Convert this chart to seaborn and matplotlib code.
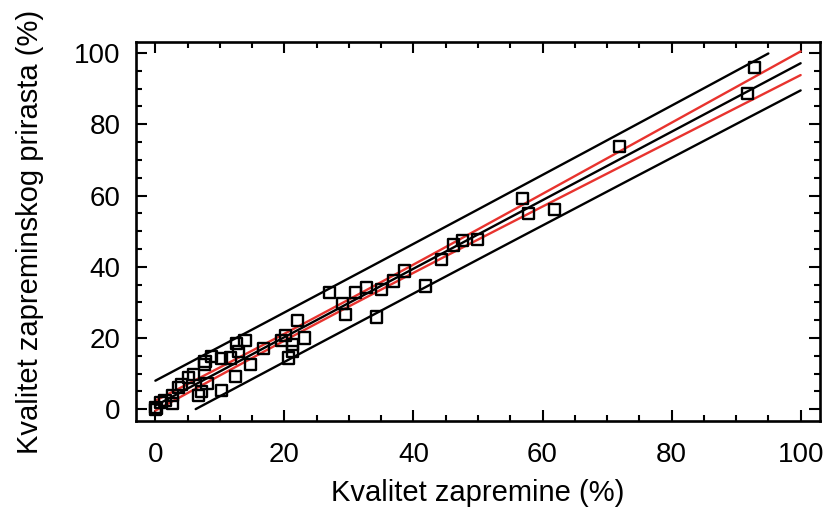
import numpy as np
import pandas as pd
import matplotlib
matplotlib.use('Agg')
import matplotlib.pyplot as plt
import seaborn as sns
from matplotlib.ticker import MultipleLocator

# Quality of volume (%) vs quality of volume increment (%)
vol_quality = [0.0, 0.0, 0.2, 0.8, 1.5, 2.6, 2.7, 3.6, 4.1, 5.1, 5.9, 6.7, 7.1, 8.0,
               7.6, 7.7, 8.7, 10.3, 10.3, 11.6, 12.4, 12.9, 12.6, 13.9, 14.7, 16.7,
               19.6, 20.1, 20.7, 21.3, 21.2, 23.1, 22.0, 27.0, 29.0, 29.4, 31.0, 32.7,
               34.3, 35.1, 36.9, 38.6, 41.9, 44.3, 46.2, 47.6, 49.9, 56.9, 57.8, 61.9,
               71.9, 91.7, 92.9]
inc_quality = [0.0, 0.6, 0.2, 1.9, 2.5, 3.9, 1.6, 6.0, 6.9, 8.8, 9.7, 3.9, 4.9, 7.2,
               12.5, 13.5, 14.7, 14.2, 5.3, 14.4, 9.1, 16.3, 18.5, 19.4, 12.5, 17.0,
               19.4, 20.8, 14.4, 16.1, 18.2, 20.0, 24.8, 32.7, 29.7, 26.6, 32.7, 34.1,
               25.9, 33.7, 36.0, 38.8, 34.6, 42.1, 46.1, 47.3, 47.7, 59.2, 55.0, 56.2,
               73.7, 88.7, 96.0]

df = pd.DataFrame({'x': vol_quality, 'y': inc_quality})

# linear fit with 95% confidence and prediction bands
n = len(df)
b, a = np.polyfit(df['x'], df['y'], 1)
resid = df['y'] - (a + b * df['x'])
s = np.sqrt((resid ** 2).sum() / (n - 2))
t_crit = 2.006
xm = df['x'].mean()
sxx = ((df['x'] - xm) ** 2).sum()

xs = np.linspace(0, 100, 401)
fit = a + b * xs
ci = t_crit * s * np.sqrt(1 / n + (xs - xm) ** 2 / sxx)
pi = t_crit * s * np.sqrt(1 + 1 / n + (xs - xm) ** 2 / sxx)

def clip(v):
    v = v.copy()
    v[(v < 0) | (v > 100)] = np.nan
    return v

sns.set_style('ticks')
plt.rcParams['font.family'] = ['Liberation Sans', 'DejaVu Sans']
plt.rcParams['text.color'] = 'black'
plt.rcParams['axes.labelcolor'] = 'black'
plt.rcParams['xtick.color'] = 'black'
plt.rcParams['ytick.color'] = 'black'
plt.rcParams['axes.edgecolor'] = 'black'

fig = plt.figure(figsize=(8.27, 5.07), dpi=100)
ax = fig.add_axes([136 / 827, 86 / 507, 684 / 827, 379 / 507])

ax.plot(xs, clip(fit + pi), color='black', lw=1.7)
ax.plot(xs, clip(fit - pi), color='black', lw=1.7)
ax.plot(xs, fit + ci, color='#e8332e', lw=1.7)
ax.plot(xs, fit - ci, color='#e8332e', lw=1.7)
ax.plot(xs, fit, color='black', lw=1.7)

sns.scatterplot(data=df, x='x', y='y', marker='s', s=64, facecolor='none',
                edgecolor='black', linewidth=1.7, ax=ax, zorder=5)

ax.set_xlim(-3, 103)
ax.set_ylim(-3.3, 103.1)
ax.xaxis.set_major_locator(MultipleLocator(20))
ax.xaxis.set_minor_locator(MultipleLocator(5))
ax.yaxis.set_major_locator(MultipleLocator(20))
ax.yaxis.set_minor_locator(MultipleLocator(5))
ax.tick_params(which='both', direction='in', top=True, right=True, width=1.5,
               color='black', labelcolor='black')
ax.tick_params(which='major', length=8, labelsize=20)
ax.tick_params(axis='x', which='major', pad=15)
ax.tick_params(axis='y', which='major', pad=11)
ax.tick_params(which='minor', length=4)
for sp in ax.spines.values():
    sp.set_linewidth(1.9)
    sp.set_color('black')
    sp.set_visible(True)

ax.set_xlabel('Kvalitet zapremine (%)', fontsize=21, labelpad=8)
ax.set_ylabel('Kvalitet zapreminskog prirasta (%)', fontsize=21, labelpad=22)

fig.savefig('out.png', dpi=100)
